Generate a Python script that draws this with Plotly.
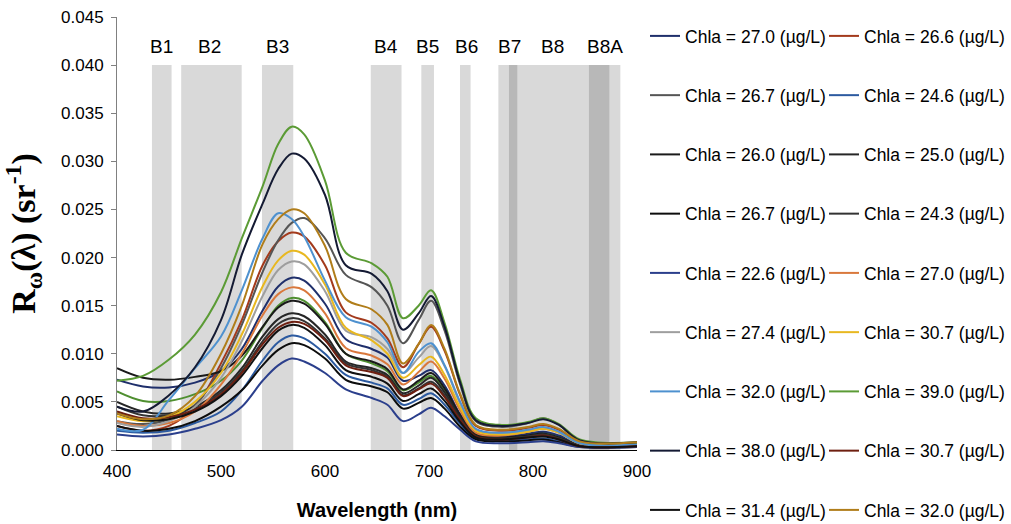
import plotly.graph_objects as go

wavelength = [400, 425, 450, 475, 500, 520, 540, 555, 568, 580, 600, 620, 645, 660,
              675, 690, 702, 715, 730, 745, 770, 795, 810, 825, 845, 900]

# legend order (row-major, two columns)
names = ["Chla = 27.0 (µg/L)", "Chla = 26.6 (µg/L)", "Chla = 26.7 (µg/L)", "Chla = 24.6 (µg/L)",
         "Chla = 26.0 (µg/L)", "Chla = 25.0 (µg/L)", "Chla = 26.7 (µg/L)", "Chla = 24.3 (µg/L)",
         "Chla = 22.6 (µg/L)", "Chla = 27.0 (µg/L)", "Chla = 27.4 (µg/L)", "Chla = 30.7 (µg/L)",
         "Chla = 32.0 (µg/L)", "Chla = 39.0 (µg/L)", "Chla = 38.0 (µg/L)", "Chla = 30.7 (µg/L)",
         "Chla = 31.4 (µg/L)", "Chla = 32.0 (µg/L)"]

colors = ["#1f2f6b", "#a33a1c", "#555555", "#2c5aa0", "#1a1a1a", "#262626", "#0d0d0d", "#333333",
          "#2b3f8c", "#d9783c", "#9e9e9e", "#e8b820", "#4e91cf", "#5b9b35", "#141a33", "#6e1f10",
          "#111111", "#b07d1a"]

s01 = [.0073, .0066, .0065, .0070, .0082, .0105, .0145, .0170, .0179, .0176, .0152, .0115, .0105, .0096, .0072, .0077, .0083, .0067, .0037, .0017, .0014, .0017, .0019, .0015, .0006, .0005]
s02 = [.0025, .0020, .0025, .0045, .0090, .0135, .0192, .0217, .0226, .0222, .0192, .0143, .0132, .0116, .0086, .0110, .0128, .0103, .0057, .0025, .0020, .0023, .0026, .0021, .0008, .0007]
s03 = [.0030, .0027, .0032, .0047, .0085, .0130, .0185, .0218, .0236, .0241, .0220, .0182, .0169, .0150, .0111, .0135, .0155, .0124, .0068, .0030, .0024, .0028, .0033, .0026, .0010, .0007]
s04 = [.0020, .0018, .0020, .0028, .0040, .0062, .0093, .0112, .0119, .0116, .0100, .0078, .0070, .0064, .0047, .0053, .0059, .0047, .0027, .0012, .0010, .0011, .0012, .0009, .0004, .0003]
s05 = [.0085, .0075, .0073, .0076, .0082, .0098, .0128, .0148, .0155, .0152, .0131, .0100, .0092, .0084, .0063, .0072, .0080, .0064, .0036, .0016, .0013, .0015, .0017, .0013, .0005, .0005]
s06 = [.0050, .0040, .0038, .0045, .0062, .0085, .0118, .0136, .0142, .0139, .0120, .0092, .0085, .0078, .0059, .0067, .0075, .0060, .0034, .0015, .0012, .0014, .0016, .0012, .0005, .0005]
s07 = [.0025, .0020, .0022, .0030, .0045, .0062, .0088, .0104, .0111, .0109, .0095, .0073, .0066, .0060, .0043, .0049, .0054, .0043, .0024, .0011, .0009, .0010, .0011, .0008, .0003, .0003]
s08 = [.0045, .0036, .0036, .0043, .0060, .0082, .0113, .0131, .0137, .0134, .0116, .0090, .0083, .0076, .0057, .0064, .0071, .0057, .0032, .0014, .0012, .0014, .0016, .0012, .0005, .0004]
s09 = [.0016, .0014, .0016, .0022, .0031, .0045, .0072, .0088, .0095, .0092, .0080, .0063, .0054, .0047, .0030, .0037, .0044, .0035, .0021, .0009, .0007, .0008, .0009, .0007, .0003, .0003]
s10 = [.0030, .0025, .0028, .0040, .0068, .0100, .0140, .0162, .0169, .0166, .0142, .0106, .0098, .0089, .0068, .0081, .0092, .0074, .0041, .0018, .0015, .0019, .0022, .0018, .0007, .0006]
s11 = [.0028, .0024, .0030, .0045, .0075, .0113, .0160, .0187, .0196, .0193, .0165, .0124, .0117, .0105, .0080, .0096, .0108, .0087, .0048, .0021, .0017, .0020, .0023, .0018, .0007, .0006]
s12 = [.0035, .0030, .0034, .0050, .0080, .0120, .0170, .0197, .0207, .0203, .0172, .0127, .0114, .0100, .0075, .0088, .0097, .0078, .0044, .0020, .0016, .0019, .0022, .0018, .0007, .0007]
s13 = [.0022, .0021, .0052, .0085, .0118, .0166, .0220, .0246, .0240, .0222, .0176, .0138, .0128, .0112, .0080, .0102, .0111, .0088, .0050, .0022, .0018, .0021, .0024, .0019, .0007, .0006]
s14 = [.0072, .0077, .0094, .0120, .0164, .0220, .0274, .0318, .0336, .0328, .0280, .0205, .0194, .0180, .0137, .0150, .0166, .0132, .0073, .0033, .0026, .0029, .0033, .0027, .0011, .0008]
s15 = [.0045, .0040, .0057, .0086, .0135, .0203, .0256, .0292, .0308, .0303, .0265, .0192, .0183, .0165, .0125, .0142, .0160, .0128, .0070, .0031, .0025, .0028, .0032, .0026, .0010, .0008]
s16 = [.0040, .0033, .0034, .0042, .0058, .0080, .0110, .0127, .0133, .0131, .0114, .0088, .0081, .0075, .0056, .0063, .0069, .0055, .0031, .0014, .0011, .0013, .0015, .0011, .0004, .0004]
s17 = [.0038, .0031, .0032, .0040, .0056, .0077, .0106, .0124, .0130, .0127, .0109, .0083, .0076, .0069, .0051, .0058, .0064, .0051, .0029, .0013, .0011, .0013, .0014, .0011, .0004, .0004]
s18 = [.0038, .0032, .0036, .0056, .0100, .0150, .0214, .0240, .0250, .0246, .0212, .0157, .0146, .0130, .0090, .0110, .0130, .0105, .0058, .0026, .0021, .0024, .0027, .0022, .0009, .0008]
series = [s01, s02, s03, s04, s05, s06, s07, s08, s09, s10, s11, s12, s13, s14, s15, s16, s17, s18]

# an additional curve visible in the plot whose legend entry is cut off
extra_values = [.0061, .0051, .0051, .0058, .0072, .0093, .0127, .0150, .0158, .0155, .0133, .0100, .0090, .0082, .0062, .0070, .0077, .0062, .0035, .0016, .0013, .0016, .0018, .0014, .0006, .0005]
extra_color = "#4f8f30"

band_names = ["B1", "B2", "B3", "B4", "B5", "B6", "B7", "B8", "B8A"]
band_start = [433.6, 461.7, 539.4, 644.0, 692.6, 729.8, 766.7, 776.9, 853.8]
band_end = [452.5, 519.9, 569.5, 673.6, 704.8, 740.0, 784.9, 884.0, 873.4]
band_label_x = [443, 489, 554, 659, 699, 736.5, 777, 819, 869]

fig = go.Figure()

fig.add_trace(go.Scatter(x=wavelength, y=extra_values, mode="lines", showlegend=False,
                         line=dict(color=extra_color, width=2, shape="spline", smoothing=1.0)))

for i, (nm, col, vals) in enumerate(zip(names, colors, series)):
    fig.add_trace(go.Scatter(
        x=wavelength, y=vals, mode="lines", name=nm,
        legend="legend" if i % 2 == 0 else "legend2",
        legendgroup=f"g{i}",
        line=dict(color=col, width=2, shape="spline", smoothing=1.0)))

for b0, b1 in zip(band_start, band_end):
    fig.add_shape(type="rect", xref="x", yref="y", x0=b0, x1=b1, y0=0, y1=0.040,
                  fillcolor="rgba(0,0,0,0.15)", line=dict(width=0), layer="below")

for nm, bx in zip(band_names, band_label_x):
    fig.add_annotation(x=bx, y=0.0419, xref="x", yref="y", text=nm, showarrow=False,
                       font=dict(family="Liberation Sans, Arial", size=19, color="black"))

legend_common = dict(
    yref="container", yanchor="top", xanchor="left", traceorder="grouped",
    tracegroupgap=33.5, bgcolor="rgba(0,0,0,0)", itemwidth=30, maxheight=600,
    font=dict(family="Liberation Sans, Arial", size=17.5, color="black"))

fig.update_layout(
    width=1011, height=524,
    margin=dict(l=117, r=374, t=17, b=74, autoexpand=False),
    paper_bgcolor="white", plot_bgcolor="white",
    font=dict(family="Liberation Sans, Arial", color="black"),
    legend=dict(x=1.0154, y=0.9656, **legend_common),
    legend2=dict(x=1.3596, y=0.9656, **legend_common),
    xaxis=dict(range=[400, 900], tickvals=[400, 500, 600, 700, 800, 900],
               showline=True, linecolor="black", linewidth=1, showgrid=False, zeroline=False,
               ticks="", tickfont=dict(size=17, family="Liberation Sans, Arial"),
               ticklabelstandoff=6,
               title=dict(text="<b>Wavelength (nm)</b>", standoff=22,
                          font=dict(size=20, family="Liberation Sans, Arial"))),
    yaxis=dict(range=[0, 0.045], dtick=0.005, tickformat=".3f",
               showline=True, linecolor="#808080", linewidth=1, showgrid=False, zeroline=False,
               ticks="outside", ticklen=5, tickcolor="#808080",
               tickfont=dict(size=17, family="Liberation Sans, Arial"),
               ticklabelstandoff=4,
               title=dict(text="<b>R<sub>ω</sub>(λ) (sr<sup>-1</sup>)</b>", standoff=19,
                          font=dict(size=34, family="Liberation Serif, Times New Roman"))),
)

fig.write_html("out.html", config={"displayModeBar": False},
               post_script=["document.body.style.margin='0';document.body.style.padding='0';"])
